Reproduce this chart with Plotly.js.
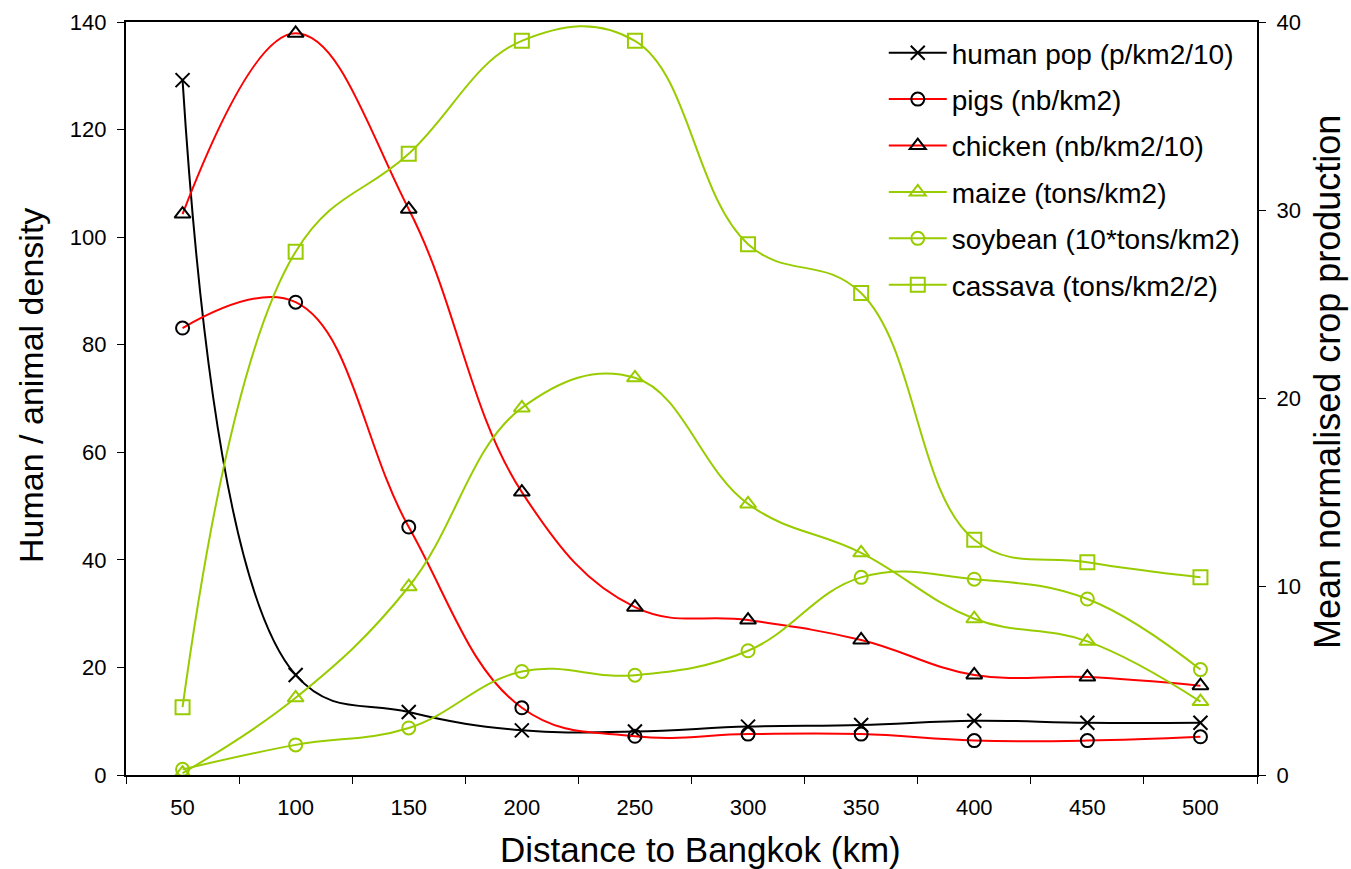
<!DOCTYPE html>
<html><head><meta charset="utf-8">
<script src="https://cdn.plot.ly/plotly-3.0.1.min.js"></script>
<style>html,body{margin:0;padding:0;background:#fff}#chart{width:1351px;height:869px}</style>
</head><body><div id="chart"></div>
<script>
const distance = ["50","100","150","200","250","300","350","400","450","500"];
const humanPop = [129.2, 18.6, 11.7, 8.3, 8.1, 9.0, 9.3, 10.1, 9.7, 9.7];
const pigs     = [83.1, 87.9, 46.1, 12.5, 7.2, 7.6, 7.6, 6.4, 6.4, 7.1];
const chicken  = [104.3, 137.9, 105.2, 52.6, 31.2, 28.8, 25.1, 18.6, 18.2, 16.6];
const maize    = [0.1, 4.1, 10.0, 19.5, 21.1, 14.4, 11.8, 8.3, 7.1, 3.9];
const soybean  = [0.3, 1.6, 2.5, 5.5, 5.3, 6.6, 10.5, 10.4, 9.35, 5.6];
const cassava  = [3.6, 27.8, 33.0, 39.0, 39.0, 28.2, 25.6, 12.5, 11.3, 10.5];

const RED = "#FF0000", GREEN = "#99CC00", BLACK = "#000000";
function tr(name, y, lineColor, markerSymbol, markerColor, axis, size) {
  return {
    type: "scatter", mode: "lines+markers", name: name, x: distance, y: y,
    yaxis: axis, legendgroup: name,
    line: {color: lineColor, width: 2, shape: "spline", smoothing: 1.15},
    marker: {symbol: markerSymbol, size: size, color: markerColor,
             line: {color: markerColor, width: 2}}
  };
}
const data = [
  tr("human pop (p/km2/10)", humanPop, BLACK, "x-thin-open", BLACK, "y", 14),
  tr("pigs (nb/km2)", pigs, RED, "circle-open", BLACK, "y", 13),
  tr("chicken (nb/km2/10)", chicken, RED, "triangle-up-open", BLACK, "y", 14),
  tr("maize (tons/km2)", maize, GREEN, "triangle-up-open", GREEN, "y2", 14),
  tr("soybean (10*tons/km2)", soybean, GREEN, "circle-open", GREEN, "y2", 13),
  tr("cassava (tons/km2/2)", cassava, GREEN, "square-open", GREEN, "y2", 14)
];
const F = "Liberation Sans, Arial, sans-serif";
const layout = {
  width: 1351, height: 869,
  margin: {l: 126, r: 94, t: 22, b: 94},
  paper_bgcolor: "#fff", plot_bgcolor: "#fff",
  font: {family: F, color: "#000", size: 22},
  showlegend: true,
  legend: {x: 0.670, y: 0.992, xanchor: "left", yanchor: "top",
           bgcolor: "rgba(255,255,255,0)", font: {size: 28, family: F},
           itemwidth: 58, tracegroupgap: 7},
  xaxis: {
    type: "category", range: [-0.5, 9.5], tickson: "boundaries",
    ticks: "outside", ticklen: 7, tickwidth: 1, tickcolor: "#000",
    showline: true, linecolor: "#000", linewidth: 2, mirror: true,
    showgrid: false, zeroline: false, tickfont: {size: 22},
    ticklabelstandoff: 12
  },
  yaxis: {
    range: [0, 140], dtick: 20, ticks: "outside", ticklen: 7, tickcolor: "#000",
    showline: true, linecolor: "#000", linewidth: 2, showgrid: false, zeroline: false,
    tickfont: {size: 22}, ticksuffix: "\u00a0"
  },
  yaxis2: {
    overlaying: "y", side: "right", range: [0, 40], dtick: 10,
    ticks: "outside", ticklen: 7, tickcolor: "#000",
    showline: true, linecolor: "#000", linewidth: 2, showgrid: false, zeroline: false,
    tickfont: {size: 22}, tickprefix: "\u00a0"
  },
  annotations: [
    {text: "Distance to Bangkok (km)", xref: "paper", yref: "paper",
     x: 0.508, y: -0.0996, xanchor: "center", yanchor: "middle",
     showarrow: false, font: {size: 35, family: F}},
    {text: "Human / animal density", xref: "paper", yref: "paper",
     x: -0.084, y: 0.518, xanchor: "center", yanchor: "middle", textangle: -90,
     showarrow: false, font: {size: 34, family: F}},
    {text: "Mean normalised crop production", xref: "paper", yref: "paper",
     x: 1.0628, y: 0.522, xanchor: "center", yanchor: "middle", textangle: -90,
     showarrow: false, font: {size: 36, family: F}}
  ]
};
Plotly.newPlot("chart", data, layout, {displayModeBar: false, staticPlot: true});
</script></body></html>
